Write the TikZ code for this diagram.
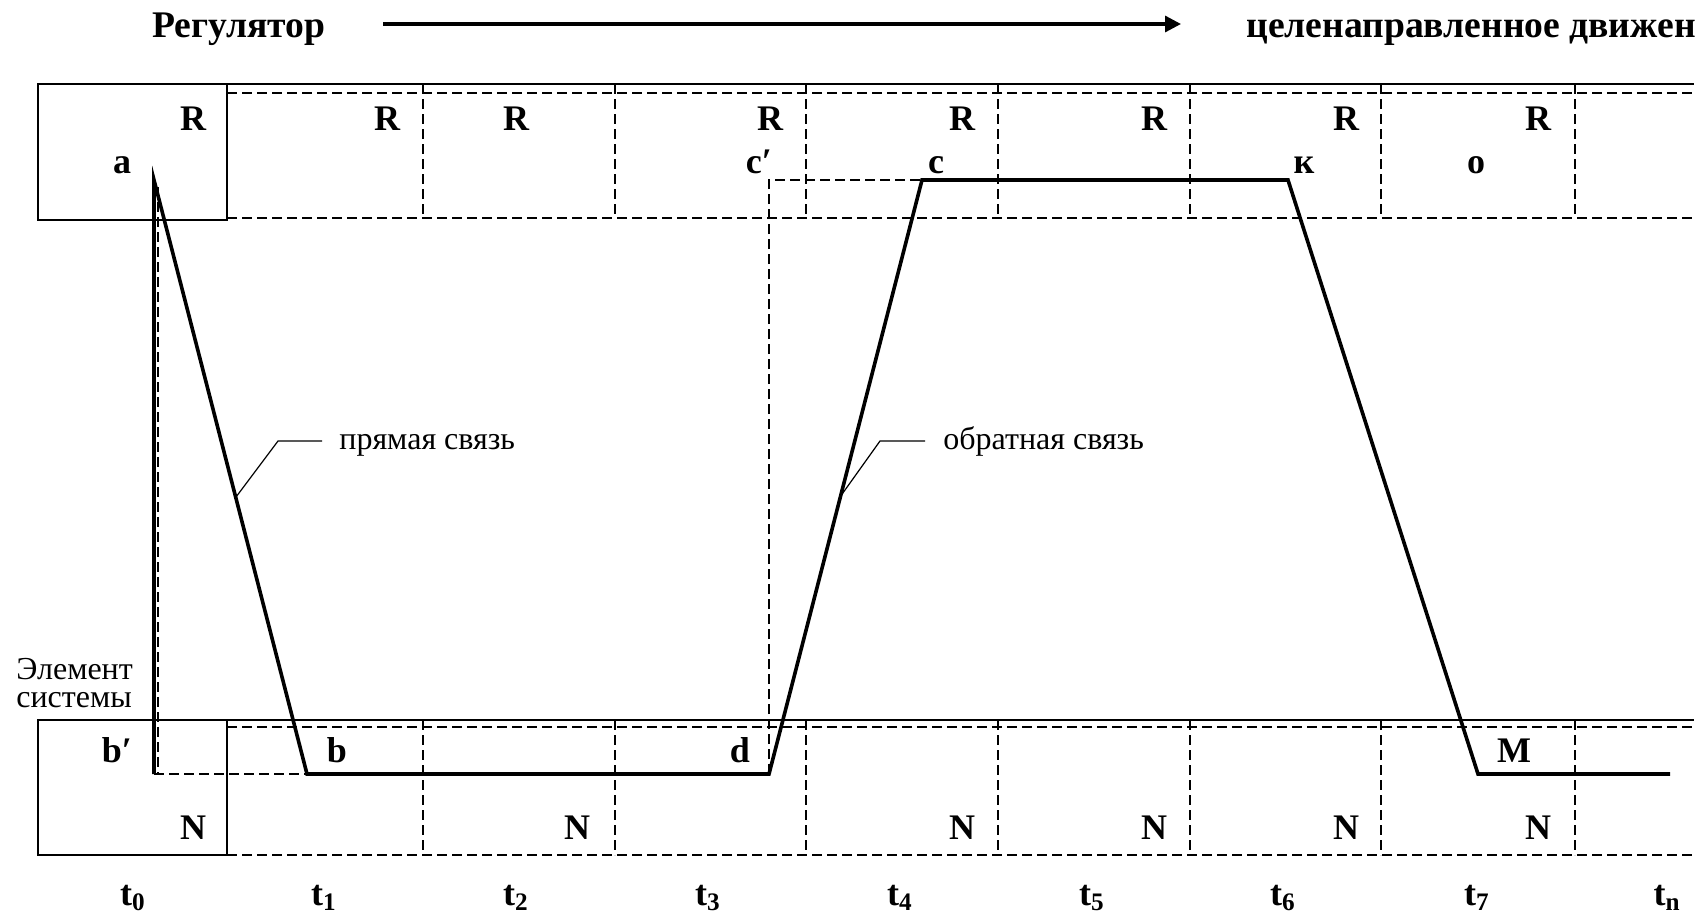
\documentclass[tikz,border=0pt]{standalone}
\usepackage{fontspec}
\setmainfont{Liberation Serif}
\usetikzlibrary{arrows.meta}

\begin{document}
\begin{tikzpicture}[x=0.5pt, y=-0.5pt,
  lbl/.style={font=\fontsize{18}{20}\selectfont\bfseries, inner sep=0pt, anchor=base},
  head/.style={font=\fontsize{18.8}{20}\selectfont\bfseries, inner sep=0pt, anchor=base},
  txt/.style={font=\fontsize{16}{18}\selectfont, inner sep=0pt, anchor=base west},
  grid/.style={line width=0.8pt, dash pattern=on 5pt off 2.5pt},
  frame/.style={line width=0.8pt},
  curve/.style={line width=1.8pt, line join=miter},
  leader/.style={line width=0.6pt}]
\useasboundingbox (0,0) rectangle (1708,922);

% headline
\node[head] (reg) at (239,37) {Регулятор};
\node[head, anchor=base west] (goal) at (1246,37) {целенаправленное движен};
\coordinate (arrL) at (383,24);
\coordinate (arrR) at (1181,24);
\draw[line width=1.6pt, -{Triangle[length=8pt, width=8pt]}] (arrL) -- (arrR);

% regulator band
\draw[frame] (38,84) rectangle (227,220);
\draw[frame] (227,84) -- (1694,84);
\draw[grid] (227,93) -- (1694,93) (227,218) -- (1694,218);
% element band
\draw[frame] (38,720) rectangle (227,855);
\draw[frame] (227,720) -- (1694,720);
\draw[grid] (227,727) -- (1694,727) (227,855) -- (1694,855);
\foreach \x in {423,615,806,998,1190,1381,1575}
  \draw[grid] (\x,84) -- (\x,218) (\x,720) -- (\x,855);

\foreach \x in {193,387,516,770,962,1154,1346,1538}
  \node[lbl] (r\x) at (\x,130) {R};
\foreach \x in {193,577,962,1154,1346,1538}
  \node[lbl] (n\x) at (\x,839) {N};
\foreach \x/\i in {133/0,324/1,516/2,708/3,900/4,1092/5,1283/6,1477/7,1667/n}
  \node[lbl] (t\i) at (\x,905) {t\textsubscript{\i}};

% movement
\coordinate (a) at (154,180);
\coordinate (bp) at (154,774);
\coordinate (b) at (307,774);
\coordinate (d) at (769,774);
\coordinate (cp) at (769,180);
\coordinate (c) at (922,180);
\coordinate (k) at (1288,180);
\coordinate (m) at (1478,774);
\coordinate (e) at (1670,774);
\draw[curve] (bp) -- (a) -- (b) -- (d) -- (c) -- (k) -- (m) -- (e);
\draw[grid] (158,187) -- (158,774);
\draw[grid] (bp) -- (b);
\draw[grid] (d) -- (cp) -- (c);

\node[lbl] (la) at (122,173) {a};
\node[lbl] (lcp) at (759,173) {c′};
\node[lbl] (lc) at (936,173) {c};
\node[lbl] (lk) at (1304,173) {к};
\node[lbl] (lo) at (1476,173) {о};
\node[lbl] (lbp) at (117,762) {b′};
\node[lbl] (lb) at (337,762) {b};
\node[lbl] (ld) at (740,762) {d};
\node[lbl] (lm) at (1514,762) {M};

\node[txt, align=left] (elem) at (16,707) {Элемент\\[-4pt]системы};

% links
\node[txt] (direct) at (339,449) {прямая связь};
\coordinate (p1) at (236,497);
\coordinate (q1) at (322,441);
\draw[leader] (p1) -- (278,441) -- (q1);
\node[txt] (feedback) at (943,449) {обратная связь};
\coordinate (p2) at (840,497);
\coordinate (q2) at (925,441);
\draw[leader] (p2) -- (880,441) -- (q2);
\end{tikzpicture}
\end{document}
